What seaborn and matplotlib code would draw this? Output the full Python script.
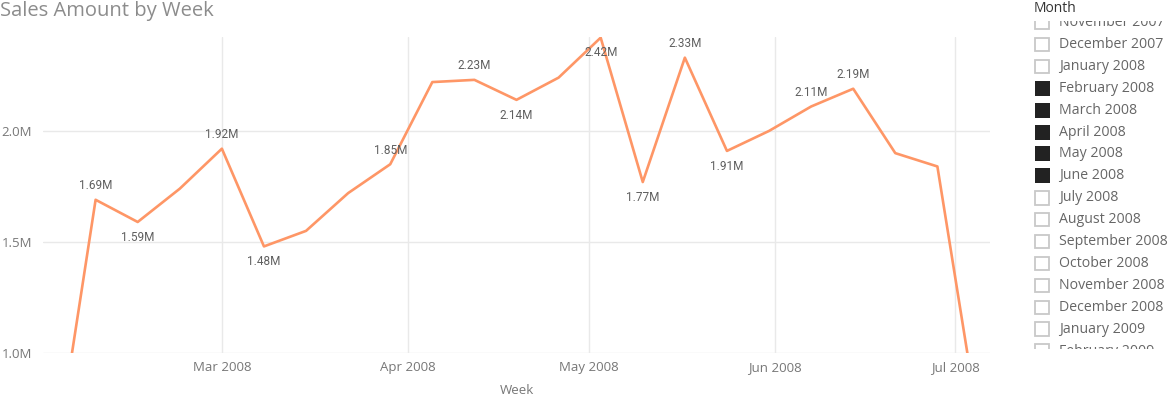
import matplotlib
matplotlib.use("Agg")
import matplotlib.pyplot as plt
import matplotlib.dates as mdates
from matplotlib.patches import Rectangle
from matplotlib.ticker import FixedLocator, FuncFormatter
import seaborn as sns
import pandas as pd

# ---- data ----
week_end = ["2008-02-02", "2008-02-09", "2008-02-16", "2008-02-23", "2008-03-01",
            "2008-03-08", "2008-03-15", "2008-03-22", "2008-03-29", "2008-04-05",
            "2008-04-12", "2008-04-19", "2008-04-26", "2008-05-03", "2008-05-10",
            "2008-05-17", "2008-05-24", "2008-05-31", "2008-06-07", "2008-06-14",
            "2008-06-21", "2008-06-28", "2008-07-05"]
sales_m = [0.46, 1.69, 1.59, 1.74, 1.92, 1.48, 1.55, 1.72, 1.85, 2.22,
           2.23, 2.14, 2.24, 2.42, 1.77, 2.33, 1.91, 2.00, 2.11, 2.19,
           1.90, 1.84, 0.66]
# which points carry a data label, and where (a = above, b = below, '' = none)
label_side = ["", "a", "b", "", "a", "b", "", "", "a", "",
              "a", "b", "", "b", "b", "a", "b", "", "a", "a",
              "", "", ""]
y_ticks = [1.0, 1.5, 2.0]
x_ticks = ["2008-03-01", "2008-04-01", "2008-05-01", "2008-06-01", "2008-07-01"]
months = ["November 2007", "December 2007", "January 2008", "February 2008",
          "March 2008", "April 2008", "May 2008", "June 2008", "July 2008",
          "August 2008", "September 2008", "October 2008", "November 2008",
          "December 2008", "January 2009", "February 2009"]
selected = [False, False, False, True, True, True, True, True, False,
            False, False, False, False, False, False, False]

df = pd.DataFrame({"Week": pd.to_datetime(week_end), "Sales": sales_m})

sns.set_theme(style="white")
plt.rcParams["font.family"] = ["Open Sans", "DejaVu Sans"]

W, H = 1171, 398
fig = plt.figure(figsize=(W / 100, H / 100), dpi=100)
fig.patch.set_facecolor("white")

# main axes (pixel box: x 43..990, y 37..353)
ax = fig.add_axes([43 / W, 1 - 353 / H, (990 - 43) / W, (353 - 37) / H])
sns.lineplot(data=df, x="Week", y="Sales", ax=ax, color="#FE9666", linewidth=1.9)

ax.set_ylim(1.0, 2.423)
ax.set_xlim(pd.Timestamp("2008-01-31 06:00"), pd.Timestamp("2008-07-06 18:00"))
ax.yaxis.set_major_locator(FixedLocator(y_ticks))
ax.yaxis.set_major_formatter(FuncFormatter(lambda v, p: f"{v:.1f}M"))
ax.xaxis.set_major_locator(FixedLocator([mdates.date2num(pd.Timestamp(t)) for t in x_ticks]))
ax.xaxis.set_major_formatter(mdates.DateFormatter("%b %Y"))
ax.grid(True, color="#e9e9e9", linewidth=1.0)
ax.set_axisbelow(True)
for s in ax.spines.values():
    s.set_visible(False)
ax.tick_params(axis="both", length=0, colors="#777777", labelsize=9.5)
ax.tick_params(axis="y", pad=8)
ax.tick_params(axis="x", pad=6)
ax.set_ylabel("")
ax.set_xlabel("Week", color="#777777", fontsize=9.5, labelpad=7)

for d, v, side in zip(df["Week"], df["Sales"], label_side):
    if not side:
        continue
    off = 10 if side == "a" else -11
    ax.annotate(f"{v:.2f}M", (d, v), xytext=(0, off), textcoords="offset points",
                ha="center", va="center", fontsize=8.5, color="#5f5f5f",
                family=["Roboto", "DejaVu Sans"], annotation_clip=False)

# title
fig.text(0, 1 - 11 / H, "Sales Amount by Week", ha="left", va="center",
         fontsize=14.5, color="#8c8c8c")

# slicer header
fig.text(1034 / W, 1 - 9 / H, "Month", ha="left", va="center",
         fontsize=10, color="#333333")

# slicer list (clipped region y 20.5..349)
top_px, bot_px = 20.5, 349
sl = fig.add_axes([1025 / W, 1 - bot_px / H, (W - 1025) / W, (bot_px - top_px) / H])
sl.set_xlim(1025, W)
sl.set_ylim(bot_px, top_px)
sl.axis("off")
row0, step = 22.6, 21.9
for i, (m, sel) in enumerate(zip(months, selected)):
    yc = row0 + i * step
    if sel:
        r = Rectangle((1034.5, yc - 7.5), 15, 15, facecolor="#222222",
                      edgecolor="#222222", linewidth=0)
    else:
        r = Rectangle((1035.2, yc - 6.8), 13.6, 13.6, facecolor="white",
                      edgecolor="#c8c8c8", linewidth=1.3)
    r.set_clip_on(True)
    sl.add_patch(r)
    t = sl.text(1059, yc, m, ha="left", va="center", fontsize=10.2, color="#666666")
    t.set_clip_on(True)

fig.savefig("out.png", dpi=100, facecolor="white")
